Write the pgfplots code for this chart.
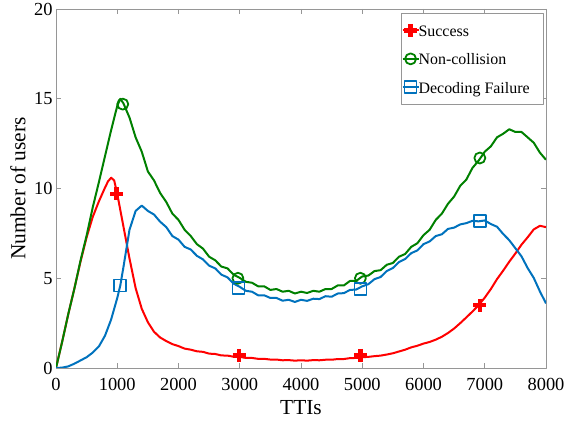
\documentclass[border=0pt]{standalone}
\usepackage{pgfplots}
\pgfplotsset{compat=1.18}
\usepackage{fontspec}
\setmainfont{Liberation Serif}
\definecolor{mred}{RGB}{255,0,0}
\definecolor{mgreen}{RGB}{0,128,0}
\definecolor{mblue}{RGB}{0,114,189}
\definecolor{axgray}{RGB}{150,150,150}
\begin{document}
\begin{tikzpicture}
\begin{axis}[
 at={(0,0)}, anchor=south west,
 width=490bp, height=359bp, scale only axis,
 xmin=0, xmax=8000, ymin=0, ymax=20,
 xtick={0,1000,...,8000}, ytick={0,5,10,15,20},
 axis line style={axgray, line width=0.8bp},
 tick style={axgray, line width=0.8bp},
 tick align=inside, major tick length=5bp,
 every tick label/.append style={font=\fontsize{18.5}{20}\selectfont, text=black},
 xticklabel style={yshift=-7bp},
 /pgf/number format/assume math mode=true,
 /pgf/number format/set thousands separator={},
 xlabel={TTIs}, ylabel={Number of users},
 label style={font=\fontsize{21.5}{24}\selectfont},
 xlabel style={at={(axis description cs:0.5,-0.1114)}, anchor=center},
 ylabel style={at={(axis description cs:-0.0776,0.5)}, anchor=center},
 legend image code/.code={\draw[mark repeat=2,mark phase=2,#1] plot coordinates {(0bp,0bp) (8bp,0bp) (16bp,0bp)};},
 legend style={at={(0.9959,0.9889)}, anchor=north east, draw=axgray, line width=0.8bp,
   font=\fontsize{16}{18}\selectfont, inner xsep=0bp, inner ysep=9bp, row sep=12.5bp,
   nodes={text height=14bp, text depth=2bp, inner ysep=0bp, inner xsep=1bp},
   /tikz/every odd column/.append style={column sep=-2bp}},
 legend cell align=left,
 line join=round,
]
\addlegendimage{mred, line width=2bp, mark=+, mark size=6.5bp, mark options={line width=4.5bp}}
\addlegendentry{\makebox[124bp][l]{Success}}
\addlegendimage{mgreen, line width=2bp, mark=o, mark size=5.5bp, mark options={line width=1.8bp}}
\addlegendentry{\makebox[124bp][l]{Non-collision}}
\addlegendimage{mblue, line width=2bp, mark=square, mark size=6bp, mark options={line width=1.8bp}}
\addlegendentry{\makebox[124bp][l]{Decoding Failure}}

% Success
\addplot[mred, line width=2bp, no marks, forget plot] coordinates {
(0,0) (100,1.46) (200,2.99) (300,4.43) (400,5.92) (500,7.28) (600,8.42) (700,9.28) (800,10.05) (850,10.4) (900,10.6) (950,10.45)
(1000,9.7) (1100,7.9) (1200,6.1) (1300,4.45) (1400,3.3) (1500,2.55) (1600,2.02) (1700,1.7) (1800,1.5) (1900,1.33)
(2000,1.22) (2100,1.08) (2200,1.02) (2300,0.93) (2400,0.9) (2500,0.8) (2600,0.78) (2700,0.7) (2800,0.69) (2900,0.63)
(3000,0.62) (3100,0.56) (3200,0.56) (3300,0.51) (3400,0.51) (3500,0.47) (3600,0.47) (3700,0.43) (3800,0.44) (3900,0.41)
(4000,0.43) (4100,0.41) (4200,0.44) (4300,0.43) (4400,0.46) (4500,0.46) (4600,0.5) (4700,0.5) (4800,0.55) (4900,0.56)
(5000,0.6) (5100,0.62) (5200,0.66) (5300,0.69) (5400,0.75) (5500,0.82) (5600,0.92) (5700,1.02) (5800,1.15) (5900,1.24)
(6000,1.36) (6100,1.45) (6200,1.58) (6300,1.74) (6400,1.95) (6500,2.2) (6600,2.5) (6700,2.82) (6800,3.15) (6900,3.5)
(7000,3.92) (7100,4.4) (7200,4.95) (7300,5.42) (7400,5.92) (7500,6.38) (7600,6.87) (7700,7.28) (7800,7.72) (7900,7.92) (8000,7.85)
};
\addplot[only marks, mred, mark=+, mark size=6.5bp, mark options={line width=4.5bp}, forget plot] coordinates {
(990,9.7) (2990,0.7) (4970,0.7) (6920,3.5)
};
% Non-collision
\addplot[mgreen, line width=2bp, no marks, forget plot] coordinates {
(0,0) (100,1.45) (200,3.0) (300,4.42) (400,5.98) (500,7.38) (600,8.95) (700,10.35) (800,11.8) (900,13.25)
(1000,14.6) (1050,15.0) (1100,14.75) (1200,13.95) (1300,12.85) (1400,12.05) (1500,10.95) (1600,10.45) (1700,9.75) (1800,9.25) (1900,8.6)
(2000,8.25) (2100,7.7) (2200,7.35) (2300,6.9) (2400,6.65) (2500,6.2) (2600,6.0) (2700,5.65) (2800,5.55) (2900,5.2)
(3000,5.02) (3100,4.8) (3200,4.75) (3300,4.55) (3400,4.55) (3500,4.35) (3600,4.4) (3700,4.25) (3800,4.3) (3900,4.15)
(4000,4.25) (4100,4.18) (4200,4.3) (4300,4.25) (4400,4.4) (4500,4.4) (4600,4.6) (4700,4.6) (4800,4.85) (4900,4.85)
(5000,5.1) (5100,5.15) (5200,5.4) (5300,5.45) (5400,5.75) (5500,5.85) (5600,6.2) (5700,6.35) (5800,6.75) (5900,6.95)
(6000,7.4) (6100,7.7) (6200,8.25) (6300,8.6) (6400,9.15) (6500,9.55) (6600,10.15) (6700,10.5) (6800,11.15) (6900,11.55)
(7000,12.05) (7100,12.35) (7200,12.85) (7300,13.05) (7400,13.3) (7500,13.15) (7600,13.15) (7700,12.85) (7800,12.55) (7900,12.0) (8000,11.6)
};
\addplot[only marks, mgreen, mark=o, mark size=5.5bp, mark options={line width=1.8bp}, forget plot] coordinates {
(1090,14.7) (2970,5.0) (4970,5.0) (6920,11.7)
};
% Decoding failure
\addplot[mblue, line width=2bp, no marks, forget plot] coordinates {
(0,0) (100,0.02) (200,0.09) (300,0.24) (400,0.42) (500,0.6) (600,0.86) (700,1.2) (800,1.8) (900,2.7)
(1000,3.9) (1050,4.6) (1100,5.6) (1200,7.7) (1300,8.75) (1400,9.05) (1500,8.75) (1600,8.55) (1700,8.15) (1800,7.85) (1900,7.35)
(2000,7.15) (2100,6.75) (2200,6.6) (2300,6.25) (2400,6.05) (2500,5.7) (2600,5.55) (2700,5.2) (2800,5.05) (2900,4.7)
(3000,4.52) (3100,4.3) (3200,4.25) (3300,4.05) (3400,4.05) (3500,3.9) (3600,3.9) (3700,3.75) (3800,3.8) (3900,3.68)
(4000,3.8) (4100,3.74) (4200,3.86) (4300,3.84) (4400,4.0) (4500,3.97) (4600,4.15) (4700,4.17) (4800,4.35) (4900,4.37)
(5000,4.55) (5100,4.67) (5200,4.95) (5300,5.07) (5400,5.4) (5500,5.57) (5600,5.9) (5700,6.07) (5800,6.4) (5900,6.55)
(6000,6.9) (6100,7.05) (6200,7.35) (6300,7.45) (6400,7.75) (6500,7.82) (6600,8.0) (6700,8.07) (6800,8.2) (6900,8.17)
(7000,8.22) (7100,8.02) (7200,7.87) (7300,7.47) (7400,7.12) (7500,6.67) (7600,6.22) (7700,5.57) (7800,5.02) (7900,4.27) (8000,3.6)
};
\addplot[only marks, mblue, mark=square, mark size=6bp, mark options={line width=1.8bp}, forget plot] coordinates {
(1050,4.6) (2980,4.45) (4970,4.4) (6920,8.2)
};
\end{axis}
\pgfresetboundingbox
\path[use as bounding box] (-56bp,-62bp) rectangle (510bp,368bp);
\end{tikzpicture}
\end{document}
